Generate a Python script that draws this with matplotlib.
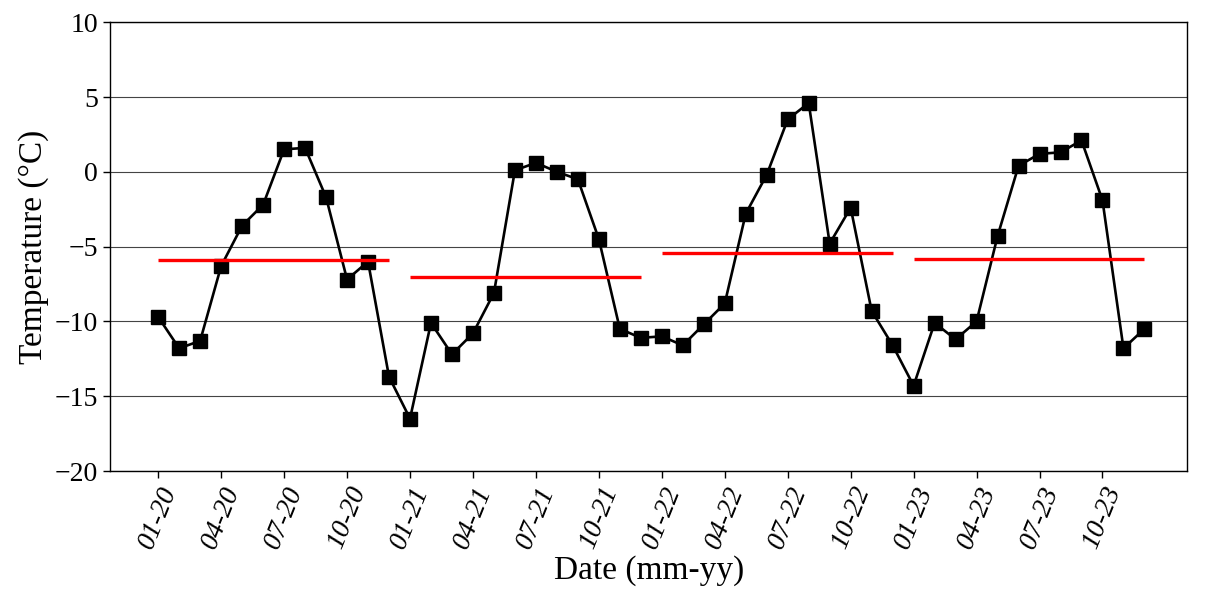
import matplotlib.pyplot as plt
import numpy as np

# monthly mean temperature, 01-20 .. 12-23
temp_2020 = [-9.7, -11.8, -11.3, -6.3, -3.6, -2.2, 1.5, 1.6, -1.7, -7.2, -6.0, -13.7]
temp_2021 = [-16.5, -10.1, -12.2, -10.8, -8.1, 0.1, 0.6, 0.0, -0.5, -4.5, -10.5, -11.1]
temp_2022 = [-11.0, -11.6, -10.2, -8.8, -2.8, -0.2, 3.5, 4.6, -4.8, -2.4, -9.3, -11.6]
temp_2023 = [-14.3, -10.1, -11.2, -10.0, -4.3, 0.4, 1.2, 1.3, 2.1, -1.9, -11.8, -10.5]
annual_mean = [-5.9, -7.0, -5.4, -5.8]

tick_labels = ['01-20', '04-20', '07-20', '10-20', '01-21', '04-21', '07-21', '10-21',
               '01-22', '04-22', '07-22', '10-22', '01-23', '04-23', '07-23', '10-23']

temps = temp_2020 + temp_2021 + temp_2022 + temp_2023
months = np.arange(len(temps))

plt.rcParams['font.family'] = ['Liberation Serif', 'DejaVu Serif']

fig = plt.figure(figsize=(12.08, 6), dpi=100)
ax = fig.add_axes([0.091, 0.215, 0.892, 0.748])

ax.grid(axis='y', color='#444444', linewidth=0.8)
ax.set_axisbelow(True)

ax.plot(months, temps, color='black', linewidth=1.9, marker='s', markersize=10, zorder=3)

for k, m in enumerate(annual_mean):
    ax.hlines(m, 12 * k, 12 * k + 11, color='red', linewidth=2.4, zorder=4)

ax.set_xlim(-2.3, 49.05)
ax.set_ylim(-20, 10)
ax.set_yticks([-20, -15, -10, -5, 0, 5, 10])
ax.set_xticks(months[::3])
ax.set_xticklabels(tick_labels, rotation=68, fontstyle='italic')

ax.tick_params(labelsize=20, width=1, length=5, color='black')
for s in ax.spines.values():
    s.set_linewidth(1.0)
    s.set_color('black')

ax.set_xlabel('Date (mm-yy)', fontsize=24, labelpad=2)
ax.set_ylabel('Temperature (°C)', fontsize=24, labelpad=4)

fig.savefig('out.png', dpi=100)
